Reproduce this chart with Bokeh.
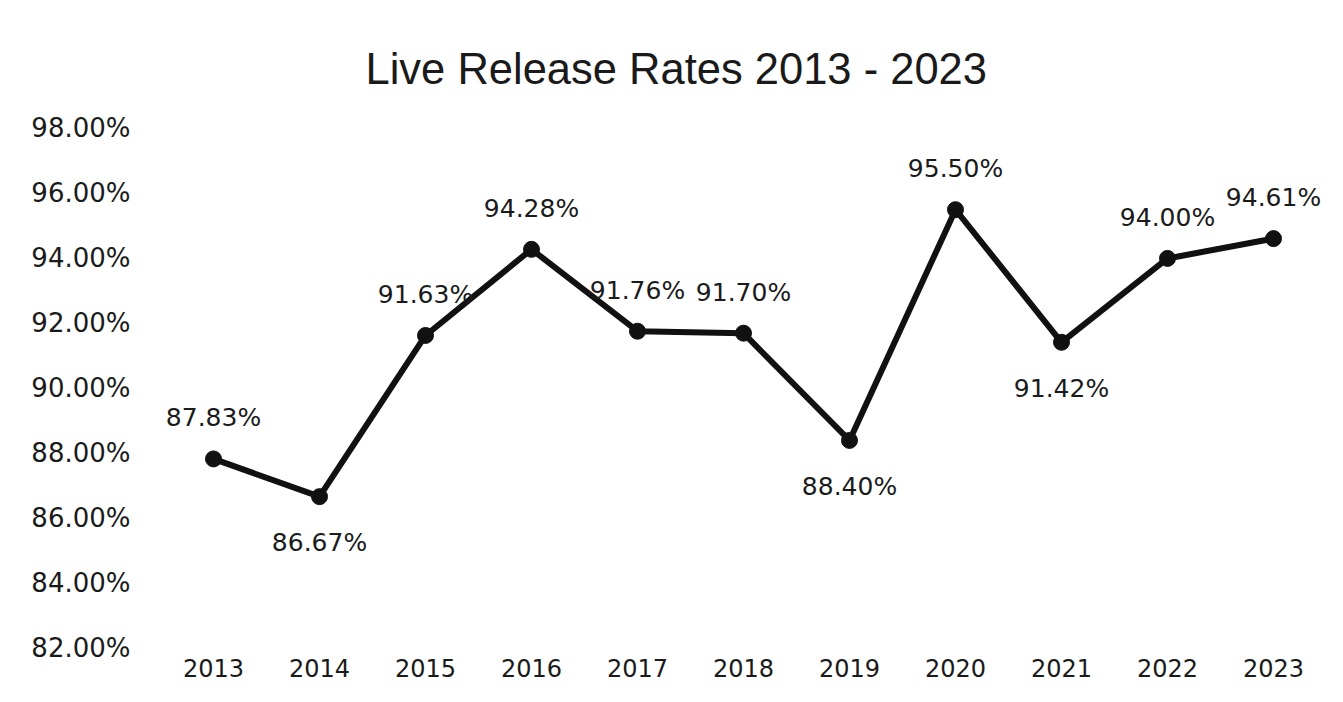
from bokeh.plotting import figure
from bokeh.models import FixedTicker, PrintfTickFormatter, ColumnDataSource, Range1d, FactorRange
from bokeh.core.properties import value
from bokeh.embed import file_html
from bokeh.resources import INLINE

# ---- data ----
years = ["2013", "2014", "2015", "2016", "2017", "2018", "2019", "2020", "2021", "2022", "2023"]
rates = [87.83, 86.67, 91.63, 94.28, 91.76, 91.70, 88.40, 95.50, 91.42, 94.00, 94.61]
label_side = ["above", "below", "above", "above", "above", "above", "below", "above", "below", "above", "above"]
y_ticks = [82, 84, 86, 88, 90, 92, 94, 96, 98]
title_text = "Live Release Rates 2013 - 2023"

# ---- styling ----
LABEL_FONT = "DejaVu Sans"
TEXT_COLOR = "#1a1a1a"
LINE_COLOR = "#111111"
ABOVE_OFF = -41
BELOW_OFF = 46

src = ColumnDataSource(dict(
    year=years,
    rate=rates,
    label=[f"{v:.2f}%" for v in rates],
    yoff=[ABOVE_OFF if s == "above" else BELOW_OFF for s in label_side],
))

p = figure(width=1327, height=686,
           x_range=FactorRange(*years),
           y_range=Range1d(81.72, 98.86),
           output_backend="svg", toolbar_location=None,
           min_border_left=160, min_border_right=1,
           min_border_top=100, min_border_bottom=29)

p.title.text = title_text
p.title.text_font = "Liberation Sans"
p.title.text_font_size = "43.5px"
p.title.text_font_style = "normal"
p.title.text_color = TEXT_COLOR
p.title.align = "left"
p.title.offset = 205
p.title.standoff = 16

p.outline_line_color = None
p.xgrid.visible = False
p.ygrid.visible = False
p.background_fill_color = "white"
p.border_fill_color = "white"

for ax in (p.xaxis[0], p.yaxis[0]):
    ax.axis_line_color = None
    ax.major_tick_line_color = None
    ax.minor_tick_line_color = None
    ax.major_tick_out = 0
    ax.major_tick_in = 0
    ax.major_label_text_font = LABEL_FONT
    ax.major_label_text_color = TEXT_COLOR

p.yaxis.ticker = FixedTicker(ticks=y_ticks)
p.yaxis.formatter = PrintfTickFormatter(format="%.2f%%")
p.yaxis.major_label_text_font_size = "26px"
p.yaxis.major_label_standoff = 30
p.xaxis.major_label_text_font_size = "24px"
p.xaxis.major_label_standoff = 1

p.line(x="year", y="rate", source=src, line_width=6, line_color=LINE_COLOR)
p.scatter(x="year", y="rate", source=src, size=16, fill_color=LINE_COLOR, line_color=LINE_COLOR)

p.text(x="year", y="rate", text="label", source=src, y_offset="yoff",
       text_align="center", text_baseline="middle",
       text_font=value(LABEL_FONT), text_font_size=value("25px"), text_color=TEXT_COLOR)

open("out.html", "w").write(file_html(p, INLINE))
